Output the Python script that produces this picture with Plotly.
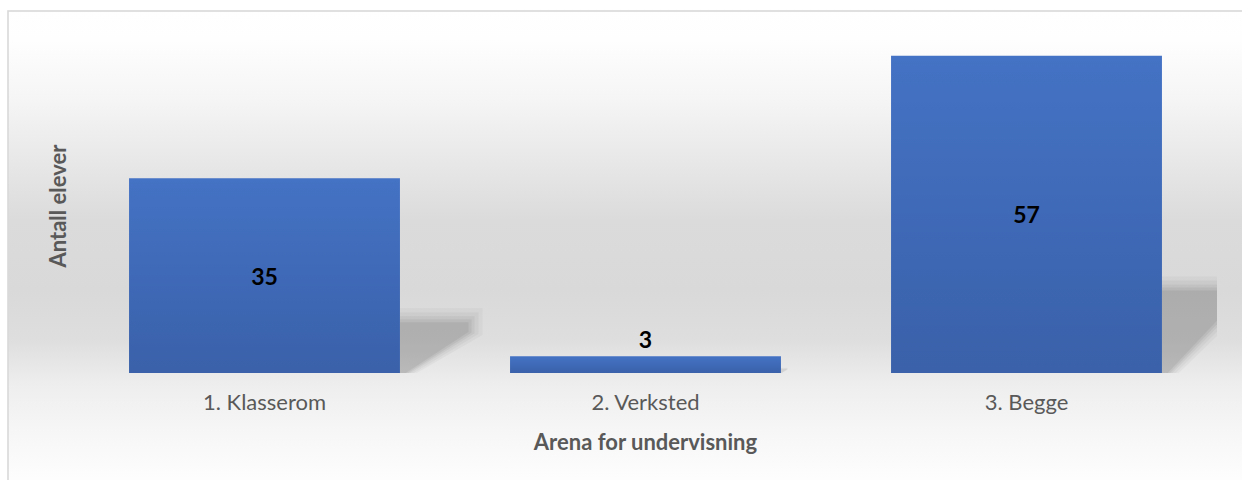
import base64
import plotly.graph_objects as go

# Survey data: where the pupils receive their teaching
categories = ["1. Klasserom", "2. Verksted", "3. Begge"]
counts = [35, 3, 57]

x_title = "Arena for undervisning"
y_title = "Antall elever"

# Figure geometry
W, H = 1242, 480
M_L, M_R, M_T, M_B = 74, 25, 39, 107
PLOT_W = W - M_L - M_R
PLOT_H = H - M_T - M_B
Y_MAX = 60
BAR_W = 0.711

BAR_TOP = "#4472C4"
FONT = "Lato"
GREY_TXT = "#595959"

# px -> axis units
ux = 3.0 / PLOT_W
uy = Y_MAX / PLOT_H

xs = list(range(len(categories)))

fig = go.Figure()

fig.add_trace(go.Bar(
    x=xs, y=counts, width=BAR_W,
    marker=dict(color=BAR_TOP, line=dict(width=0)),
    text=[str(v) for v in counts],
    textposition="auto",
    insidetextanchor="middle",
    constraintext="none",
    textfont=dict(family=FONT, size=23, color="black", weight="bold"),
    insidetextfont=dict(family=FONT, size=23, color="black", weight="bold"),
    outsidetextfont=dict(family=FONT, size=23, color="black", weight="bold"),
    hoverinfo="skip",
    showlegend=False,
))

# vertical shading on each bar (lighter top, darker bottom)
for i, v in zip(xs, counts):
    fig.add_trace(go.Scatter(
        x=[i - BAR_W / 2, i + BAR_W / 2, i + BAR_W / 2, i - BAR_W / 2, i - BAR_W / 2],
        y=[0, 0, v, v, 0],
        mode="lines", line=dict(width=0),
        fill="toself",
        fillgradient=dict(type="vertical",
                          colorscale=[[0, "rgba(0,0,20,0.15)"], [1, "rgba(0,0,20,0.0)"]]),
        hoverinfo="skip", showlegend=False,
    ))

# soft perspective shadow behind each bar, scaled with the bar height
shapes = []
for i, v in zip(xs, counts):
    R = i + BAR_W / 2
    top = 0.26 * v
    low = 0.21 * v
    k = min(1.0, (top / uy) / 50.0)      # small bars get a small, faint shadow
    dx = 0.18 * k
    for g, op in [(14, 0.03), (10, 0.035), (6, 0.045), (3, 0.05), (0, 0.055)]:
        g = g * k
        pts = [
            (R, 0),
            (R, top + g * uy),
            (R + dx + g * ux, top + g * uy),
            (R + dx + g * ux, max(low - g * uy * 0.2, 0)),
            (R + 0.015 * k + g * ux * 0.8, 0),
        ]
        path = "M " + " L ".join(f"{px:.4f},{py:.4f}" for px, py in pts) + " Z"
        shapes.append(dict(type="path", path=path, xref="x", yref="y",
                           fillcolor=f"rgba(0,0,0,{op * max(k, 0.4):.3f})",
                           line=dict(width=0), layer="below"))

# chart-area background: grey band fading to white at top and bottom
stops = [(10, "#ffffff"), (40, "#fefefe"), (100, "#f5f5f5"), (160, "#e8e8e8"),
         (220, "#dbdbdb"), (290, "#d9d9d9"), (340, "#dedede"), (385, "#eeeeee"),
         (430, "#f6f6f6"), (478, "#fdfdfd")]
grad = "".join(
    f'<stop offset="{y / H:.4f}" stop-color="{c}"/>' for y, c in stops)
svg = (
    f'<svg xmlns="http://www.w3.org/2000/svg" width="{W}" height="{H}" '
    f'viewBox="0 0 {W} {H}" preserveAspectRatio="none">'
    f'<defs><linearGradient id="g" x1="0" y1="0" x2="0" y2="{H}" '
    f'gradientUnits="userSpaceOnUse">{grad}</linearGradient></defs>'
    f'<rect x="0" y="0" width="{W}" height="{H}" fill="#ffffff"/>'
    f'<rect x="8" y="11" width="{W + 20}" height="{H + 20}" fill="url(#g)" '
    f'stroke="#d9d9d9" stroke-width="1.6"/>'
    f'</svg>'
)
src = "data:image/svg+xml;base64," + base64.b64encode(svg.encode()).decode()

fig.update_layout(
    width=W, height=H,
    margin=dict(l=M_L, r=M_R, t=M_T, b=M_B, autoexpand=False),
    paper_bgcolor="white",
    plot_bgcolor="rgba(0,0,0,0)",
    shapes=shapes,
    images=[dict(source=src, xref="paper", yref="paper",
                 x=-M_L / PLOT_W, y=(PLOT_H + M_T) / PLOT_H,
                 sizex=W / PLOT_W, sizey=H / PLOT_H,
                 xanchor="left", yanchor="top", sizing="stretch",
                 layer="below")],
    bargap=1 - BAR_W,
    xaxis=dict(
        range=[-0.5, 2.5], tickmode="array", tickvals=xs, ticktext=categories,
        showgrid=False, zeroline=False, showline=False, ticks="",
        tickfont=dict(family=FONT, size=22, color=GREY_TXT),
        ticklabelstandoff=14,
        title=dict(text=x_title, standoff=20,
                   font=dict(family=FONT, size=22, color=GREY_TXT, weight="bold")),
        fixedrange=True,
    ),
    yaxis=dict(
        range=[0, Y_MAX], showgrid=False, zeroline=False, showline=False,
        showticklabels=False, ticks="",
        title=dict(text=y_title, standoff=0,
                   font=dict(family=FONT, size=22, color=GREY_TXT, weight="bold")),
        fixedrange=True,
    ),
)

fig.write_html("out.html")
